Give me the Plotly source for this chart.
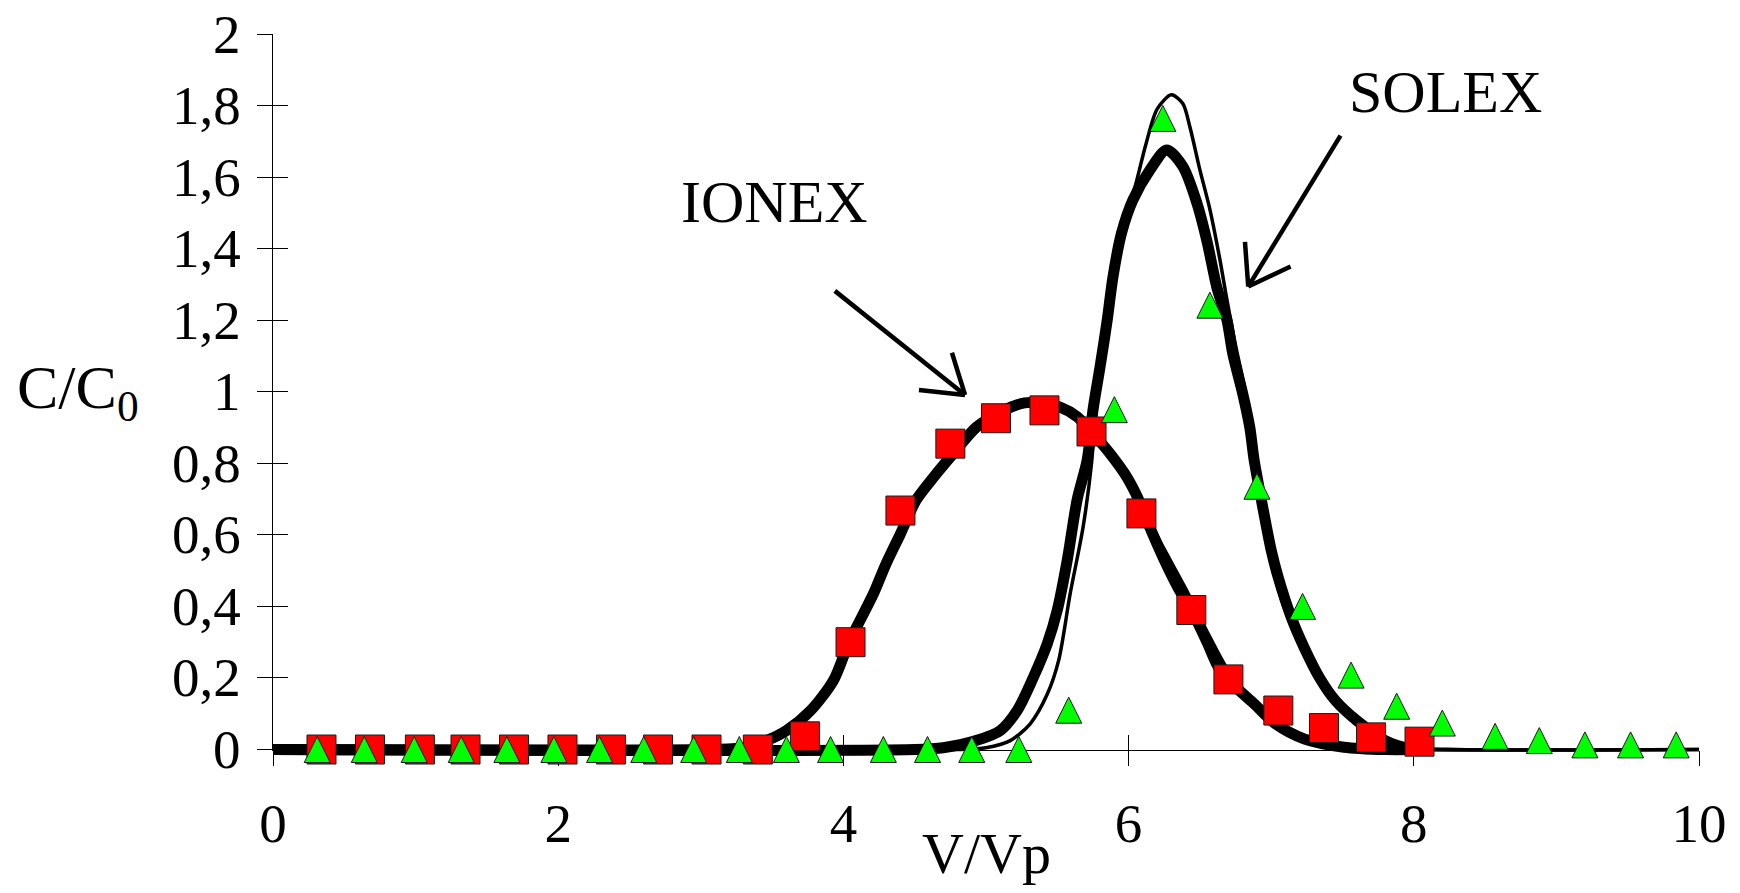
import plotly.graph_objects as go

# ---------------- data ----------------
x_ticks = [0, 2, 4, 6, 8, 10]
x_tick_labels = ["0", "2", "4", "6", "8", "10"]
y_ticks = [0, 0.2, 0.4, 0.6, 0.8, 1.0, 1.2, 1.4, 1.6, 1.8, 2.0]
y_tick_labels = ["0", "0,2", "0,4", "0,6", "0,8", "1", "1,2", "1,4", "1,6", "1,8", "2"]

# IONEX model curves
ionex_thick_x = [0, 3.0, 3.3, 3.46, 3.60, 3.77, 3.93, 4.04, 4.21, 4.30, 4.40, 4.51, 4.63, 4.77,
                 4.93, 5.10, 5.27, 5.40, 5.52, 5.64, 5.74, 5.87, 5.99, 6.08, 6.15, 6.25, 6.35,
                 6.44, 6.55, 6.63, 6.75, 6.88, 7.03, 7.23, 7.51, 7.80, 8.0]
ionex_thick_y = [0, 0, 0.005, 0.025, 0.053, 0.109, 0.193, 0.30, 0.435, 0.52, 0.603, 0.697, 0.76, 0.827,
                 0.90, 0.943, 0.969, 0.968, 0.957, 0.93, 0.888, 0.827, 0.76, 0.69, 0.62, 0.53, 0.45,
                 0.39, 0.30, 0.23, 0.175, 0.128, 0.072, 0.03, 0.0065, 0, 0]
ionex_thin_x = [0, 3.3, 3.46, 3.60, 3.77, 3.93, 4.04, 4.21, 4.40, 4.63, 4.93, 5.27, 5.52, 5.70,
                5.85, 6.00, 6.12, 6.25, 6.40, 6.55, 6.70, 6.90, 7.10, 7.35, 7.65, 8.0, 10]
ionex_thin_y = [0, 0, 0.025, 0.053, 0.109, 0.193, 0.30, 0.435, 0.603, 0.76, 0.90, 0.969, 0.957, 0.90,
                0.83, 0.74, 0.66, 0.56, 0.45, 0.33, 0.22, 0.12, 0.06, 0.025, 0.007, 0, 0]

# SOLEX model curves
solex_thick_x = [0, 4.5, 4.7, 4.93, 5.10, 5.22, 5.33, 5.43, 5.50, 5.57, 5.64, 5.71, 5.75, 5.80,
                 5.85, 5.89, 5.95, 6.03, 6.15, 6.267, 6.38, 6.48, 6.55, 6.62, 6.69, 6.73, 6.80,
                 6.85, 6.88, 6.93, 7.00, 7.05, 7.14, 7.23, 7.34, 7.45, 7.60, 7.80, 7.97, 8.1]
solex_thick_y = [0, 0, 0.005, 0.025, 0.053, 0.11, 0.20, 0.296, 0.39, 0.53, 0.70, 0.81, 0.948, 1.07,
                 1.20, 1.32, 1.443, 1.536, 1.62, 1.676, 1.63, 1.526, 1.42, 1.29, 1.20, 1.107, 0.995,
                 0.90, 0.81, 0.70, 0.557, 0.48, 0.37, 0.286, 0.20, 0.137, 0.081, 0.025, 0.003, 0]
solex_thin_x = [0, 4.8, 5.0, 5.17, 5.31, 5.43, 5.51, 5.59, 5.68, 5.74, 5.77, 5.82, 5.88, 5.96,
                6.05, 6.12, 6.20, 6.30, 6.38, 6.43, 6.50, 6.57, 6.64, 6.69, 6.75, 6.82, 6.88,
                6.93, 7.00, 7.10, 7.20, 7.30, 7.45, 7.60, 7.80, 8.0, 8.3, 10]
solex_thin_y = [0, 0, 0.005, 0.025, 0.072, 0.155, 0.25, 0.435, 0.62, 0.80, 0.95, 1.10, 1.30, 1.46,
                1.58, 1.69, 1.79, 1.83, 1.806, 1.74, 1.62, 1.51, 1.37, 1.256, 1.13, 1.0, 0.85,
                0.72, 0.57, 0.42, 0.30, 0.21, 0.13, 0.07, 0.025, 0.005, 0, 0]

# IONEX experimental points (red squares)
ionex_pts_x = [0.34, 0.68, 1.03, 1.35, 1.69, 2.03, 2.37, 2.70, 3.04, 3.40, 3.73, 4.05, 4.40, 4.75,
               5.07, 5.41, 5.74, 6.09, 6.44, 6.70, 7.05, 7.37, 7.70, 8.04]
ionex_pts_y = [0, 0, 0, 0, 0, 0, 0, 0, 0, 0, 0.037, 0.30, 0.668, 0.855,
               0.926, 0.948, 0.889, 0.66, 0.39, 0.196, 0.109, 0.06, 0.034, 0.022]

# SOLEX experimental points (green triangles)
solex_pts_x = [0.31, 0.64, 0.99, 1.32, 1.64, 1.97, 2.29, 2.60, 2.95, 3.27, 3.60, 3.91, 4.28, 4.59,
               4.90, 5.23, 5.58, 5.90, 6.24, 6.57, 6.90, 7.22, 7.56, 7.88, 8.20, 8.57, 8.88, 9.20,
               9.52, 9.84]
solex_pts_y = [0, 0, 0, 0, 0, 0, 0, 0, 0, 0, 0, 0, 0, 0,
               0, 0, 0.11, 0.95, 1.764, 1.242, 0.736, 0.40, 0.208, 0.121, 0.074, 0.037, 0.025, 0.013,
               0.013, 0.013]

# labels: (text, x, y)
curve_labels = [("IONEX", 3.52, 1.53), ("SOLEX", 8.224, 1.839)]
# arrows: tail, tip, barb 1, barb 2 (axis units)
ionex_arrow = [(3.94, 1.282), (4.853, 0.991), (4.530, 1.005), (4.761, 1.109)]
solex_arrow = [(7.486, 1.716), (6.839, 1.294), (6.816, 1.419), (7.136, 1.350)]

# ---------------- layout geometry ----------------
FIG_W, FIG_H = 1740, 893
M_L, M_R, M_T, M_B = 265, 49, 26, 130   # page body adds an 8 px offset
Y_LO, Y_HI = -0.06, 2.0
px_per_unit = (FIG_H - M_T - M_B) / (Y_HI - Y_LO)
frac0 = -Y_LO / (Y_HI - Y_LO)
TRI_SIZE = 26
tri_shift = (TRI_SIZE / 2) / px_per_unit  # arrow-up symbol has its apex at the point

FONT = "Liberation Serif"

fig = go.Figure()

# dummy traces to create the axis subplots
fig.add_trace(go.Scatter(x=[None], y=[None], xaxis="x", yaxis="y", showlegend=False, hoverinfo="skip"))
fig.add_trace(go.Scatter(x=[None], y=[None], xaxis="x3", yaxis="y3", showlegend=False, hoverinfo="skip"))

line_kw = dict(mode="lines", xaxis="x2", yaxis="y2", showlegend=False, hoverinfo="skip")
fig.add_trace(go.Scatter(x=ionex_thin_x, y=ionex_thin_y, line=dict(color="black", width=3.5, shape="spline", smoothing=0.8), **line_kw))
fig.add_trace(go.Scatter(x=solex_thin_x, y=solex_thin_y, line=dict(color="black", width=3.5, shape="spline", smoothing=0.8), **line_kw))
fig.add_trace(go.Scatter(x=ionex_thick_x, y=ionex_thick_y, line=dict(color="black", width=11, shape="spline", smoothing=0.8), **line_kw))
fig.add_trace(go.Scatter(x=solex_thick_x, y=solex_thick_y, line=dict(color="black", width=11, shape="spline", smoothing=0.8), **line_kw))

fig.add_trace(go.Scatter(x=ionex_pts_x, y=ionex_pts_y, mode="markers", xaxis="x2", yaxis="y2",
                         marker=dict(symbol="square", size=29, color="#FF0000", line=dict(color="#1a1a1a", width=1)),
                         cliponaxis=False, showlegend=False))
fig.add_trace(go.Scatter(x=solex_pts_x, y=solex_pts_y, mode="markers", xaxis="x2", yaxis="y4",
                         marker=dict(symbol="arrow-up", size=TRI_SIZE, color="#00FF00", line=dict(color="#1a1a1a", width=1)),
                         cliponaxis=False, showlegend=False))

axis_common = dict(showgrid=False, zeroline=False, color="black", automargin=False)
fig.update_layout(
    template="none",
    width=FIG_W, height=FIG_H,
    margin=dict(l=M_L, r=M_R, t=M_T, b=M_B, pad=0, autoexpand=False),
    paper_bgcolor="white", plot_bgcolor="rgba(0,0,0,0)",
    showlegend=False,
    font=dict(family=FONT, color="black"),
    xaxis=dict(domain=[0, 1], range=[0, 10], anchor="y", showline=True, linecolor="black", linewidth=1.3,
               ticks="outside", ticklen=15, tickwidth=1.3, tickcolor="black",
               tickvals=x_ticks, ticktext=x_tick_labels, tickfont=dict(size=55, family=FONT, color="black"),
               ticklabelstandoff=10, ticklabeloverflow="allow", **axis_common),
    yaxis=dict(domain=[frac0, 1], range=[0, 2], anchor="x", showline=True, linecolor="black", linewidth=1.3,
               ticks="outside", ticklen=15, tickwidth=1.3, tickcolor="black",
               tickvals=y_ticks, showticklabels=False, **axis_common),
    xaxis3=dict(overlaying="x", anchor="y", range=[0, 10], ticks="inside", ticklen=15, tickwidth=1.3,
                tickcolor="black", tickvals=x_ticks, showticklabels=False, showline=False, **axis_common),
    yaxis3=dict(overlaying="y", anchor="x", range=[0, 2], ticks="inside", ticklen=15, tickwidth=1.3,
                tickcolor="black", tickvals=y_ticks, showticklabels=False, showline=False, **axis_common),
    xaxis2=dict(domain=[0, 1], range=[0, 10], anchor="y2", visible=False, automargin=False),
    yaxis2=dict(domain=[0, 1], range=[Y_LO, Y_HI], anchor="x2", visible=False, automargin=False),
    yaxis4=dict(overlaying="y2", anchor="x2", range=[Y_LO - tri_shift, Y_HI - tri_shift], visible=False, automargin=False),
)

annotations = []
# y tick labels (drawn as text so the top label is not dropped at the page edge)
for val, lab in zip(y_ticks, y_tick_labels):
    annotations.append(dict(text=lab, x=0, y=val, xref="paper", yref="y", xanchor="right", yanchor="middle",
                            xshift=-30, showarrow=False, font=dict(size=55, family=FONT, color="black")))
for (txt, tx, ty) in curve_labels:
    annotations.append(dict(text=txt, x=tx, y=ty, xref="x", yref="y", showarrow=False,
                            font=dict(size=60, family=FONT, color="black"), xanchor="center", yanchor="middle"))
# axis titles
annotations.append(dict(text="C/C<sub>0</sub>", x=-0.1367, y=1.0, xref="paper", yref="y", showarrow=False,
                        font=dict(size=62, family=FONT, color="black"), xanchor="center", yanchor="middle"))
annotations.append(dict(text="V/Vp", x=5, y=-0.112, xref="x", yref="paper", showarrow=False,
                        font=dict(size=58, family=FONT, color="black"), xanchor="center", yanchor="middle"))

shapes = []
for arrow in (ionex_arrow, solex_arrow):
    tail, tip, b1, b2 = arrow
    for start in (tail, b1, b2):
        shapes.append(dict(type="line", xref="x", yref="y", x0=start[0], y0=start[1], x1=tip[0], y1=tip[1],
                           line=dict(color="black", width=4.5), layer="above"))
fig.update_layout(annotations=annotations, shapes=shapes)

fig.write_html("out.html")
